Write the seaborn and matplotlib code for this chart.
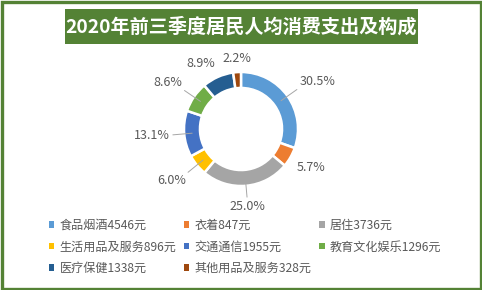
import numpy as np
import matplotlib
matplotlib.use("Agg")
import matplotlib.pyplot as plt
from matplotlib.patches import Rectangle, Patch
import seaborn as sns

# ---- data ----
categories = ["食品烟酒", "衣着", "居住", "生活用品及服务", "交通通信", "教育文化娱乐", "医疗保健", "其他用品及服务"]
values = [4546, 847, 3736, 896, 1955, 1296, 1338, 328]
pct_labels = ["30.5%", "5.7%", "25.0%", "6.0%", "13.1%", "8.6%", "8.9%", "2.2%"]
title = "2020年前三季度居民人均消费支出及构成"
colors = ["#5B9BD5", "#ED7D31", "#A5A5A5", "#FFC000", "#4472C4", "#70AD47", "#255E91", "#9E480E"]

sns.set_theme(style="white")
plt.rcParams["font.family"] = ["Noto Sans CJK SC", "DejaVu Sans"]

W, H = 482, 290
fig = plt.figure(figsize=(W / 100, H / 100), dpi=100)
fig.patch.set_facecolor("white")

green = "#548235"
# outer border
fig.patches.append(Rectangle((1.5 / W, 1.5 / H), 1 - 3 / W, 1 - 3 / H, transform=fig.transFigure,
                             fill=False, edgecolor=green, linewidth=2.4, zorder=10))
# title box
fig.patches.append(Rectangle((65 / W, 1 - 44 / H), 353 / W, 35 / H, transform=fig.transFigure,
                             facecolor=green, edgecolor="none", zorder=1))
fig.text(241.5 / W, 1 - 27 / H, title, color="white", fontsize=13.8, fontweight="bold",
         ha="center", va="center", zorder=5)

# donut
cx, cy, R = 241, 129, 57
ax = fig.add_axes([(cx - R) / W, 1 - (cy + R) / H, 2 * R / W, 2 * R / H])
pal = sns.color_palette(colors)
wedges, _ = ax.pie(values, colors=pal, startangle=90, counterclock=False, radius=1,
                   wedgeprops=dict(width=0.28, edgecolor="white", linewidth=1.8))
ax.set_xlim(-1, 1)
ax.set_ylim(-1, 1)
ax.set_aspect("equal")
ax.axis("off")

leader = [True, False, True, True, True, True, False, False]
label_color = "#595959"
for i, w in enumerate(wedges):
    ang = np.deg2rad((w.theta1 + w.theta2) / 2)
    c, s = np.cos(ang), np.sin(ang)
    ha = "left" if c > 0.3 else ("right" if c < -0.3 else "center")
    va = "bottom" if s > 0.3 else ("top" if s < -0.3 else "center")
    r = 1.25 if leader[i] else 1.13
    ax.text(r * c, r * s, pct_labels[i], ha=ha, va=va, fontsize=9, color=label_color, clip_on=False)
    if leader[i]:
        ax.plot([0.86 * c, 1.2 * c], [0.86 * s, 1.2 * s], color="#A6A6A6", lw=0.7, clip_on=False)

# legend (row-major order in 3 columns)
order = [0, 3, 6, 1, 4, 7, 2, 5]
handles = [Patch(facecolor=colors[i], edgecolor="none") for i in order]
labels = [f"{categories[i]}{values[i]}元" for i in order]
leg = fig.legend(handles, labels, ncol=3, loc="upper left", bbox_to_anchor=(49 / W, 1 - 219 / H),
                 frameon=False, fontsize=8.7, handlelength=0.45, handleheight=0.45,
                 handletextpad=0.45, columnspacing=0.6, labelspacing=0.7, borderaxespad=0,
                 borderpad=0)
for t in leg.get_texts():
    t.set_color(label_color)

fig.savefig("out.png", dpi=100)
